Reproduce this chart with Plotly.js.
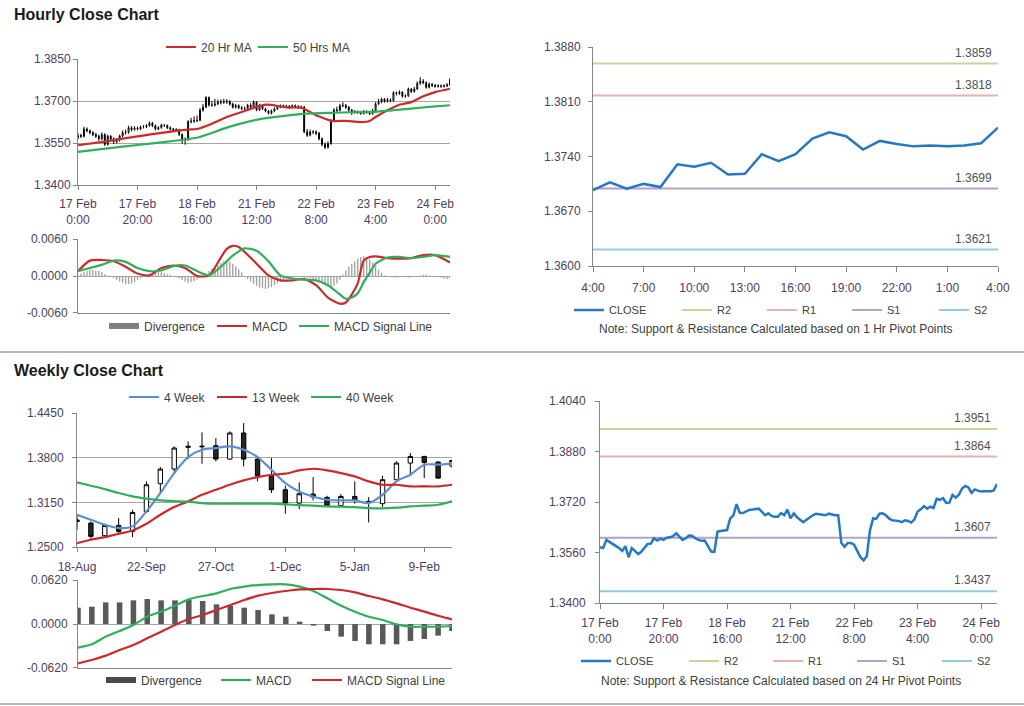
<!DOCTYPE html>
<html><head><meta charset="utf-8">
<script src="https://cdn.plot.ly/plotly-3.0.1.min.js"></script>
<style>html,body{margin:0;padding:0;background:#fff;}#chart{width:1024px;height:706px;}</style>
</head><body><div id="chart"></div>
<script>
// ================= DATA =================
// Hourly (17 Feb 0:00 .. 24 Feb ~5:00), one value per hour
const hourTickVals = [0,20,40,60,80,100,120];
const hourTickText = ["17 Feb<br>0:00","17 Feb<br>20:00","18 Feb<br>16:00","21 Feb<br>12:00","22 Feb<br>8:00","23 Feb<br>4:00","24 Feb<br>0:00"];
const hOpen = [1.3570,1.3577,1.3574,1.3600,1.3594,1.3587,1.3580,1.3574,1.3565,1.3580,
 1.3545,1.3574,1.3565,1.3555,1.3562,1.3575,1.3587,1.3588,1.3605,1.3598,
 1.3604,1.3600,1.3607,1.3608,1.3612,1.3621,1.3612,1.3600,1.3605,1.3614,
 1.3613,1.3605,1.3600,1.3597,1.3598,1.3581,1.3563,1.3562,1.3626,1.3628,
 1.3630,1.3631,1.3668,1.3678,1.3713,1.3686,1.3685,1.3690,1.3695,1.3696,
 1.3697,1.3699,1.3689,1.3678,1.3684,1.3676,1.3673,1.3673,1.3685,1.3678,
 1.3696,1.3668,1.3684,1.3672,1.3664,1.3656,1.3664,1.3672,1.3678,1.3683,
 1.3682,1.3681,1.3678,1.3683,1.3680,1.3678,1.3678,1.3590,1.3578,1.3590,
 1.3590,1.3585,1.3565,1.3545,1.3535,1.3548,1.3630,1.3668,1.3667,1.3683,
 1.3684,1.3678,1.3668,1.3662,1.3661,1.3660,1.3656,1.3662,1.3660,1.3655,
 1.3665,1.3690,1.3697,1.3707,1.3699,1.3705,1.3701,1.3730,1.3727,1.3732,
 1.3717,1.3718,1.3743,1.3734,1.3743,1.3763,1.3771,1.3766,1.3749,1.3760,
 1.3756,1.3753,1.3754,1.3753,1.3754,1.3757];
const hHigh = [1.3585,1.3583,1.3608,1.3606,1.3598,1.3592,1.3586,1.3580,1.3588,1.3585,
 1.3580,1.3578,1.3570,1.3568,1.3580,1.3595,1.3598,1.3612,1.3610,1.3610,
 1.3609,1.3612,1.3614,1.3617,1.3627,1.3625,1.3616,1.3610,1.3619,1.3618,
 1.3616,1.3609,1.3604,1.3603,1.3601,1.3584,1.3570,1.3632,1.3640,1.3645,
 1.3648,1.3675,1.3690,1.3717,1.3716,1.3700,1.3708,1.3705,1.3706,1.3708,
 1.3707,1.3703,1.3694,1.3690,1.3688,1.3682,1.3680,1.3690,1.3692,1.3702,
 1.3699,1.3690,1.3688,1.3676,1.3668,1.3670,1.3677,1.3684,1.3688,1.3688,
 1.3687,1.3686,1.3688,1.3688,1.3685,1.3684,1.3682,1.3600,1.3598,1.3596,
 1.3595,1.3590,1.3570,1.3552,1.3556,1.3636,1.3674,1.3680,1.3690,1.3696,
 1.3690,1.3682,1.3672,1.3668,1.3666,1.3665,1.3668,1.3667,1.3664,1.3672,
 1.3696,1.3708,1.3712,1.3710,1.3711,1.3709,1.3735,1.3734,1.3738,1.3735,
 1.3724,1.3748,1.3746,1.3750,1.3770,1.3785,1.3778,1.3770,1.3766,1.3764,
 1.3761,1.3760,1.3759,1.3760,1.3764,1.3782];
const hLow = [1.3563,1.3568,1.3570,1.3588,1.3581,1.3575,1.3568,1.3558,1.3560,1.3540,
 1.3541,1.3558,1.3546,1.3548,1.3555,1.3570,1.3580,1.3583,1.3592,1.3594,
 1.3595,1.3596,1.3602,1.3603,1.3608,1.3607,1.3595,1.3596,1.3601,1.3607,
 1.3600,1.3595,1.3591,1.3590,1.3575,1.3548,1.3544,1.3558,1.3620,1.3622,
 1.3625,1.3628,1.3662,1.3675,1.3680,1.3680,1.3681,1.3686,1.3688,1.3690,
 1.3690,1.3684,1.3673,1.3673,1.3671,1.3668,1.3667,1.3669,1.3674,1.3675,
 1.3664,1.3665,1.3668,1.3660,1.3652,1.3652,1.3660,1.3668,1.3674,1.3677,
 1.3676,1.3673,1.3674,1.3675,1.3673,1.3672,1.3585,1.3572,1.3574,1.3582,
 1.3578,1.3560,1.3538,1.3528,1.3530,1.3544,1.3625,1.3660,1.3663,1.3678,
 1.3672,1.3660,1.3650,1.3655,1.3654,1.3651,1.3652,1.3655,1.3650,1.3651,
 1.3661,1.3686,1.3692,1.3694,1.3695,1.3696,1.3698,1.3720,1.3722,1.3712,
 1.3712,1.3715,1.3729,1.3730,1.3740,1.3758,1.3760,1.3744,1.3745,1.3750,
 1.3748,1.3748,1.3747,1.3748,1.3750,1.3754];
const hClose = [1.3577,1.3574,1.3600,1.3594,1.3587,1.3580,1.3574,1.3565,1.3580,1.3545,
 1.3574,1.3565,1.3555,1.3562,1.3575,1.3587,1.3588,1.3605,1.3598,1.3604,
 1.3600,1.3607,1.3608,1.3612,1.3621,1.3612,1.3600,1.3605,1.3614,1.3613,
 1.3605,1.3600,1.3597,1.3598,1.3581,1.3563,1.3562,1.3626,1.3628,1.3630,
 1.3631,1.3668,1.3678,1.3713,1.3686,1.3685,1.3690,1.3695,1.3696,1.3697,
 1.3699,1.3689,1.3678,1.3684,1.3676,1.3673,1.3673,1.3685,1.3678,1.3696,
 1.3668,1.3684,1.3672,1.3664,1.3656,1.3664,1.3672,1.3678,1.3683,1.3682,
 1.3681,1.3678,1.3683,1.3680,1.3678,1.3678,1.3590,1.3578,1.3590,1.3590,
 1.3585,1.3565,1.3545,1.3535,1.3548,1.3630,1.3668,1.3667,1.3683,1.3684,
 1.3678,1.3668,1.3662,1.3661,1.3660,1.3656,1.3662,1.3660,1.3655,1.3665,
 1.3690,1.3697,1.3707,1.3699,1.3705,1.3701,1.3730,1.3727,1.3732,1.3717,
 1.3718,1.3743,1.3734,1.3743,1.3763,1.3771,1.3766,1.3749,1.3760,1.3756,
 1.3753,1.3754,1.3753,1.3754,1.3757,1.3777];
// moving averages read at these hour indices
const ma20X = [0,10,20,30,37,40,45,50,55,60,63,65,70,75,78,80,83,85,90,95,98,100,104,108,112,116,120,125];
const ma20  = [1.3542,1.3557,1.3574,1.3589,1.3598,1.3600,1.3619,1.3643,1.3661,1.3679,1.3687,1.3686,1.3677,1.3676,1.3661,1.3649,1.3637,1.3629,1.3629,1.3625,1.3629,1.3643,1.3667,1.3687,1.3696,1.3717,1.3732,1.3744];
const ma50X = [0,10,20,30,40,50,55,62,70,77,85,92,99,106,112,118,125];
const ma50  = [1.3518,1.3531,1.3543,1.3555,1.3569,1.3605,1.3620,1.3637,1.3648,1.3655,1.3658,1.3660,1.3661,1.3667,1.3673,1.3679,1.3685];
// hourly MACD
const hDiv = [0.0002,0.0004,0.0006,0.0008,0.0010,0.0010,0.0009,0.0008,0.0006,0.0003,0.0001,-0.0001,
 -0.0003,-0.0006,-0.0009,-0.0011,-0.0013,-0.0013,-0.0012,-0.0010,-0.0007,-0.0004,
 -0.0001,0.0002,0.0004,0.0006,0.0007,0.0007,0.0006,0.0005,0.0003,0.0002,0.0000,
 -0.0002,-0.0004,-0.0007,-0.0009,-0.0011,-0.0010,-0.0008,-0.0006,-0.0003,0.0000,
 0.0004,0.0008,0.0012,0.0015,0.0018,0.0021,0.0024,0.0025,0.0023,0.0020,0.0016,0.0011,0.0006,
 0.0000,-0.0005,-0.0009,-0.0013,-0.0016,-0.0019,-0.0020,-0.0021,-0.0020,-0.0018,-0.0015,-0.0012,-0.0009,-0.0006,-0.0004,
 -0.0002,-0.0002,-0.0001,-0.0001,-0.0002,-0.0003,-0.0003,-0.0004,-0.0006,
 -0.0008,-0.0010,-0.0012,-0.0015,-0.0017,-0.0018,-0.0016,-0.0012,-0.0006,0.0002,
 0.0009,0.0015,0.0020,0.0024,0.0028,0.0031,0.0032,0.0030,0.0027,0.0022,0.0016,0.0010,
 0.0005,0.0001,-0.0001,-0.0002,-0.0002,-0.0003,-0.0002,-0.0001,-0.0002,-0.0003,-0.0002,-0.0001,
 0.0000,0.0001,0.0002,0.0002,0.0001,0.0000,-0.0001,-0.0002,-0.0003,-0.0004,-0.0005,-0.0005];
const hMacdX  = [0,4,8,12,16,20,24,28,32,36,40,44,48,50,52,54,56,60,64,68,72,76,80,84,88,90,92,94,96,98,100,104,108,112,116,120,125];
const hMacd   = [0.0008,0.0025,0.0026,0.0024,0.0015,0.0004,0.0001,0.0013,0.0017,0.0013,0.0000,0.0001,0.0030,0.0044,0.0049,0.0047,0.0039,0.0020,0.0001,-0.0007,-0.0007,-0.0005,-0.0015,-0.0035,-0.0045,-0.0043,-0.0030,-0.0012,0.0025,0.0031,0.0032,0.0029,0.0028,0.0029,0.0034,0.0034,0.0022];
const hSignal = [0.0008,0.0013,0.0018,0.0025,0.0023,0.0013,0.0008,0.0009,0.0016,0.0017,0.0008,0.0001,0.0015,0.0024,0.0033,0.0040,0.0045,0.0041,0.0024,0.0001,-0.0004,-0.0006,-0.0007,-0.0015,-0.0030,-0.0037,-0.0035,-0.0028,-0.0010,0.0005,0.0020,0.0030,0.0031,0.0029,0.0031,0.0034,0.0031];
// last 24 hours close (4:00 .. 4:00)
const dayTickVals = [0,3,6,9,12,15,18,21,24];
const dayTickText = ["4:00","7:00","10:00","13:00","16:00","19:00","22:00","1:00","4:00"];
const dayClose = [1.3697,1.3707,1.3699,1.3705,1.3701,1.3730,1.3727,1.3732,1.3717,1.3718,1.3743,1.3734,1.3743,1.3763,1.3771,1.3766,1.3749,1.3760,1.3756,1.3753,1.3754,1.3753,1.3754,1.3757,1.3777];
// pivot levels
const pivotNames = ["R2","R1","S1","S2"];
const pivot1h  = [1.3859,1.3818,1.3699,1.3621];
const pivot24h = [1.3951,1.3864,1.3607,1.3437];
// Weekly (18-Aug .. 23-Feb)
const weekTickVals = [0,5,10,15,20,25];
const weekTickText = ["18-Aug","22-Sep","27-Oct","1-Dec","5-Jan","9-Feb"];
const wOpen  = [1.2893,1.2848,1.2664,1.2814,1.2727,1.3018,1.3421,1.3634,1.3950,1.3968,1.3974,1.3780,1.4159,1.3780,1.3537,1.3333,1.3139,1.3270,1.3222,1.3101,1.3236,1.3165,1.3130,1.3479,1.3722,1.3818,1.3736,1.3680];
const wHigh  = [1.2970,1.2872,1.2838,1.2921,1.3042,1.3455,1.3664,1.3965,1.4037,1.4168,1.4086,1.4183,1.4304,1.3809,1.3795,1.3392,1.3440,1.3518,1.3246,1.3270,1.3455,1.3227,1.3537,1.3746,1.3867,1.3828,1.3746,1.3770];
const wLow   = [1.2751,1.2615,1.2644,1.2678,1.2644,1.2994,1.3285,1.3567,1.3780,1.3712,1.3746,1.3770,1.3673,1.3455,1.3285,1.2984,1.3052,1.3178,1.3091,1.3081,1.3130,1.2858,1.3081,1.3455,1.3552,1.3503,1.3489,1.3650];
const wClose = [1.2872,1.2654,1.2814,1.2727,1.3003,1.3406,1.3634,1.3940,1.3965,1.3960,1.3780,1.4159,1.3780,1.3537,1.3333,1.3139,1.3275,1.3227,1.3101,1.3236,1.3178,1.3150,1.3479,1.3722,1.3818,1.3731,1.3503,1.3760];
const ma4  = [1.2970,1.2897,1.2824,1.2775,1.2800,1.3018,1.3285,1.3576,1.3809,1.3916,1.3940,1.3965,1.3916,1.3809,1.3625,1.3430,1.3309,1.3236,1.3188,1.3178,1.3178,1.3139,1.3260,1.3455,1.3552,1.3698,1.3698,1.3712];
const ma13 = [1.2557,1.2606,1.2644,1.2693,1.2741,1.2838,1.2970,1.3081,1.3164,1.3260,1.3333,1.3406,1.3469,1.3518,1.3552,1.3567,1.3615,1.3639,1.3615,1.3576,1.3528,1.3455,1.3406,1.3406,1.3382,1.3382,1.3382,1.3406];
const ma40 = [1.3440,1.3392,1.3343,1.3285,1.3236,1.3203,1.3178,1.3168,1.3159,1.3139,1.3130,1.3130,1.3130,1.3130,1.3130,1.3120,1.3110,1.3101,1.3091,1.3086,1.3081,1.3067,1.3062,1.3072,1.3091,1.3101,1.3115,1.3164];
const wDiv    = [0.0230,0.0244,0.0305,0.0305,0.0333,0.0352,0.0333,0.0333,0.0347,0.0324,0.0277,0.0258,0.0230,0.0197,0.0136,0.0103,0.0033,-0.0023,-0.0099,-0.0178,-0.0239,-0.0286,-0.0286,-0.0286,-0.0239,-0.0211,-0.0164,-0.0099];
const wMacd   = [-0.0333,-0.0286,-0.0178,-0.0099,-0.0014,0.0103,0.0174,0.0258,0.0347,0.0394,0.0432,0.0493,0.0526,0.0549,0.0559,0.0559,0.0526,0.0465,0.0362,0.0258,0.0174,0.0103,0.0056,-0.0005,-0.0038,-0.0038,-0.0038,-0.0028];
const wSignal = [-0.0554,-0.0507,-0.0446,-0.0366,-0.0296,-0.0202,-0.0108,-0.0014,0.0070,0.0127,0.0197,0.0268,0.0338,0.0399,0.0437,0.0465,0.0488,0.0493,0.0493,0.0479,0.0446,0.0394,0.0347,0.0291,0.0230,0.0174,0.0117,0.0066];
// y tick labels
const yTicksHour  = [1.3400,1.3550,1.3700,1.3850];
const yTicksDay   = [1.3600,1.3670,1.3740,1.3810,1.3880];
const yTicks24    = [1.3400,1.3560,1.3720,1.3880,1.4040];
const yTicksWeek  = [1.2500,1.3150,1.3800,1.4450];
const yTicksHMacd = [-0.0060,0.0000,0.0060];
const yTicksWMacd = [-0.0620,0.0000,0.0620];

// ================= STYLE / LAYOUT =================
const W = 1024, H = 706;
const FONT = "Liberation Sans, Arial, sans-serif";
const TICKC = "#4d4060";
const RED = "#cc2a2a", GREEN = "#2eb05a", BLUE = "#5b8fd4", CLOSEC = "#2478c4";
const PIVC = ["#c4d79b","#eab0b0","#b3a2c7","#93cddd"];
const hIdx = hClose.map((_, i) => i);
const dIdx = dayClose.map((_, i) => i);
const wIdx = wClose.map((_, i) => i);
const fmt = v => (v < 0 ? "-" : "") + Math.abs(v).toFixed(4);

const dx = (a, b) => [a / W, b / W];
const dy = (t, b) => [1 - b / H, 1 - t / H];

function xa(anchor, domain, range, extra) {
  return Object.assign({anchor, domain, range, showgrid:false, zeroline:false, showline:true,
    linecolor:"#868686", linewidth:1, ticks:"outside", ticklen:4, tickcolor:"#868686",
    tickfont:{family:FONT, size:12, color:TICKC}, fixedrange:true}, extra || {});
}
function ya(anchor, domain, range, tv, grid, extra) {
  return Object.assign({anchor, domain, range, tickmode:"array", tickvals:tv, ticktext:tv.map(fmt),
    showgrid:grid, gridcolor:"#a6a6a6", gridwidth:1, zeroline:false, showline:true,
    linecolor:"#868686", linewidth:1, ticks:"outside", ticklen:4, tickcolor:"#868686",
    tickfont:{family:FONT, size:12, color:TICKC}, fixedrange:true}, extra || {});
}

const traces = [];
const legends = {};
let legN = 0;
function leg(px, py, size) {
  legN++;
  const id = legN === 1 ? "legend" : "legend" + legN;
  legends[id] = {x:(px - 6) / W, y:1 - py / H, xanchor:"left", yanchor:"middle",
    orientation:"h", bgcolor:"rgba(0,0,0,0)", borderwidth:0, visible:true,
    font:{family:FONT, size:size || 12, color:"#404040"}, itemwidth:30};
  return id;
}

// ---- Top-left: hourly candles + MAs ----
traces.push({type:"candlestick", x:hIdx, open:hOpen, high:hHigh, low:hLow, close:hClose,
  xaxis:"x", yaxis:"y", whiskerwidth:0, showlegend:false, hoverinfo:"skip",
  increasing:{line:{color:"#000", width:1}, fillcolor:"#ffffff"},
  decreasing:{line:{color:"#000", width:1}, fillcolor:"#000000"}});
traces.push({type:"scatter", mode:"lines", x:ma20X, y:ma20, xaxis:"x", yaxis:"y", name:"20 Hr MA",
  line:{color:RED, width:2.2, shape:"spline", smoothing:0.6}, legend:leg(167, 47), showlegend:true});
traces.push({type:"scatter", mode:"lines", x:ma50X, y:ma50, xaxis:"x", yaxis:"y", name:"50 Hrs MA",
  line:{color:GREEN, width:2.2, shape:"spline", smoothing:0.6}, legend:leg(259, 47), showlegend:true});

// ---- Hourly MACD ----
traces.push({type:"bar", x:hIdx, y:hDiv, xaxis:"x2", yaxis:"y2", width:0.45,
  marker:{color:"#a0a0a0", line:{width:0}}, showlegend:false, hoverinfo:"skip"});
traces.push({type:"scatter", mode:"lines", x:[null], y:[null], xaxis:"x2", yaxis:"y2", name:"Divergence",
  line:{color:"#808080", width:6}, legend:leg(110, 326), showlegend:true});
traces.push({type:"scatter", mode:"lines", x:hMacdX, y:hMacd, xaxis:"x2", yaxis:"y2", name:"MACD",
  line:{color:RED, width:2.2, shape:"spline", smoothing:0.7}, legend:leg(218, 326), showlegend:true});
traces.push({type:"scatter", mode:"lines", x:hMacdX, y:hSignal, xaxis:"x2", yaxis:"y2", name:"MACD Signal Line",
  line:{color:GREEN, width:2.2, shape:"spline", smoothing:0.7}, legend:leg(300, 326), showlegend:true});

// ---- Top-right: last 24h close + 1h pivots ----
const topLegX = [683, 768, 853, 940];
const closeLeg1 = leg(575, 310, 11);
pivotNames.forEach((n, k) => {
  traces.push({type:"scatter", mode:"lines", x:[dIdx[0], dIdx[dIdx.length - 1]], y:[pivot1h[k], pivot1h[k]],
    xaxis:"x3", yaxis:"y3", name:n, line:{color:PIVC[k], width:2}, legend:leg(topLegX[k], 310, 11), showlegend:true});
});
traces.push({type:"scatter", mode:"lines", x:dIdx, y:dayClose, xaxis:"x3", yaxis:"y3", name:"CLOSE",
  line:{color:CLOSEC, width:2.5}, legend:closeLeg1, showlegend:true});

// ---- Weekly candles + MAs ----
traces.push({type:"candlestick", x:wIdx, open:wOpen, high:wHigh, low:wLow, close:wClose,
  xaxis:"x4", yaxis:"y4", whiskerwidth:0, showlegend:false, hoverinfo:"skip",
  increasing:{line:{color:"#000", width:1}, fillcolor:"#ffffff"},
  decreasing:{line:{color:"#000", width:1}, fillcolor:"#262626"}});
traces.push({type:"scatter", mode:"lines", x:wIdx, y:ma4, xaxis:"x4", yaxis:"y4", name:"4 Week",
  line:{color:BLUE, width:2.2, shape:"spline", smoothing:0.8}, legend:leg(130, 397), showlegend:true});
traces.push({type:"scatter", mode:"lines", x:wIdx, y:ma13, xaxis:"x4", yaxis:"y4", name:"13 Week",
  line:{color:RED, width:2.2, shape:"spline", smoothing:0.8}, legend:leg(218, 397), showlegend:true});
traces.push({type:"scatter", mode:"lines", x:wIdx, y:ma40, xaxis:"x4", yaxis:"y4", name:"40 Week",
  line:{color:GREEN, width:2.2, shape:"spline", smoothing:0.8}, legend:leg(312, 397), showlegend:true});

// ---- Weekly MACD ----
traces.push({type:"bar", x:wIdx, y:wDiv, xaxis:"x5", yaxis:"y5", width:0.4,
  marker:{color:"#595959", line:{width:0}}, showlegend:false, hoverinfo:"skip"});
traces.push({type:"scatter", mode:"lines", x:[null], y:[null], xaxis:"x5", yaxis:"y5", name:"Divergence",
  line:{color:"#4a4a4a", width:6}, legend:leg(107, 680), showlegend:true});
traces.push({type:"scatter", mode:"lines", x:wIdx, y:wMacd, xaxis:"x5", yaxis:"y5", name:"MACD",
  line:{color:GREEN, width:2.2, shape:"spline", smoothing:0.8}, legend:leg(222, 680), showlegend:true});
traces.push({type:"scatter", mode:"lines", x:wIdx, y:wSignal, xaxis:"x5", yaxis:"y5", name:"MACD Signal Line",
  line:{color:RED, width:2.2, shape:"spline", smoothing:0.8}, legend:leg(313, 680), showlegend:true});

// ---- Bottom-right: hourly close + 24h pivots ----
const botLegX = [690, 774, 858, 943];
const closeLeg2 = leg(582, 661, 11);
pivotNames.forEach((n, k) => {
  traces.push({type:"scatter", mode:"lines", x:[hIdx[0], hIdx[hIdx.length - 1]], y:[pivot24h[k], pivot24h[k]],
    xaxis:"x6", yaxis:"y6", name:n, line:{color:PIVC[k], width:2}, legend:leg(botLegX[k], 661, 11), showlegend:true});
});
traces.push({type:"scatter", mode:"lines", x:hIdx, y:hClose, xaxis:"x6", yaxis:"y6", name:"CLOSE",
  line:{color:CLOSEC, width:2.5}, legend:closeLeg2, showlegend:true});

// ---- annotations ----
const ann = [];
const txt = (text, px, py, size, extra) => Object.assign({text, x:px / W, y:1 - py / H, xref:"paper", yref:"paper",
  showarrow:false, xanchor:"left", yanchor:"middle", font:{family:FONT, size, color:"#1a1a1a"}}, extra || {});
ann.push(txt("<b>Hourly Close Chart</b>", 12, 15, 16));
ann.push(txt("<b>Weekly Close Chart</b>", 12, 370, 16));
ann.push(txt("Note: Support & Resistance Calculated based on 1 Hr Pivot Points", 776, 329, 12, {xanchor:"center", font:{family:FONT, size:12, color:"#404040"}}));
ann.push(txt("Note: Support & Resistance Calculated based on 24 Hr Pivot Points", 781, 681, 12, {xanchor:"center", font:{family:FONT, size:12, color:"#404040"}}));
pivot1h.forEach(v => ann.push({text:fmt(v), x:dIdx[dIdx.length - 1], y:v, xref:"x3", yref:"y3", showarrow:false,
  xanchor:"right", yanchor:"bottom", yshift:2, xshift:-4, font:{family:FONT, size:12, color:"#505050"}}));
pivot24h.forEach(v => ann.push({text:fmt(v), x:hIdx[hIdx.length - 1], y:v, xref:"x6", yref:"y6", showarrow:false,
  xanchor:"right", yanchor:"bottom", yshift:2, xshift:-4, font:{family:FONT, size:12, color:"#505050"}}));

const layout = Object.assign({
  width:W, height:H, margin:{l:0, r:0, t:0, b:0}, paper_bgcolor:"#fff", plot_bgcolor:"#fff",
  font:{family:FONT, size:12, color:"#404040"}, boxgap:0.55, bargap:0.5, hovermode:false, showlegend:true,
  xaxis:  xa("y",  dx(78, 450), [0, 125], {tickmode:"array", tickvals:hourTickVals, ticktext:hourTickText, rangeslider:{visible:false}, ticklabelstandoff:4}),
  yaxis:  ya("x",  dy(59, 185), [1.34, 1.38502], yTicksHour, true),
  xaxis2: xa("y2", dx(78, 450), [0, 125], {showticklabels:false, ticks:""}),
  yaxis2: ya("x2", dy(239, 313), [-0.00601, 0.00601], yTicksHMacd, true, {ticklabelstandoff:3}),
  xaxis3: xa("y3", dx(593, 998), [0, 24], {tickmode:"array", tickvals:dayTickVals, ticktext:dayTickText, ticklen:5, ticklabelstandoff:6}),
  yaxis3: ya("x3", dy(47, 266), [1.36, 1.38801], yTicksDay, false, {ticklabelstandoff:5}),
  xaxis4: xa("y4", dx(77, 452), [0, 27], {tickmode:"array", tickvals:weekTickVals, ticktext:weekTickText, rangeslider:{visible:false}, ticklabelstandoff:5}),
  yaxis4: ya("x4", dy(413, 547), [1.25, 1.44502], yTicksWeek, true, {ticklabelstandoff:6}),
  xaxis5: xa("y5", dx(78, 452), [0, 27], {showticklabels:false, ticks:""}),
  yaxis5: ya("x5", dy(580, 668), [-0.06201, 0.06201], yTicksWMacd, true, {ticklabelstandoff:3}),
  xaxis6: xa("y6", dx(600, 997), [0, 125], {tickmode:"array", tickvals:hourTickVals, ticktext:hourTickText, ticklen:5, ticklabelstandoff:4}),
  yaxis6: ya("x6", dy(401, 603), [1.34, 1.40401], yTicks24, false, {ticklabelstandoff:7}),
  annotations: ann,
  shapes: [
    {type:"line", xref:"paper", yref:"paper", x0:0, x1:1, y0:1 - 352 / H, y1:1 - 352 / H, line:{color:"#a0a0a0", width:1.5}},
    {type:"line", xref:"paper", yref:"paper", x0:0, x1:1, y0:1 - 704 / H, y1:1 - 704 / H, line:{color:"#a0a0a0", width:1.5}}
  ]
}, legends);

Plotly.newPlot("chart", traces, layout, {staticPlot:true, displayModeBar:false});
</script></body></html>
